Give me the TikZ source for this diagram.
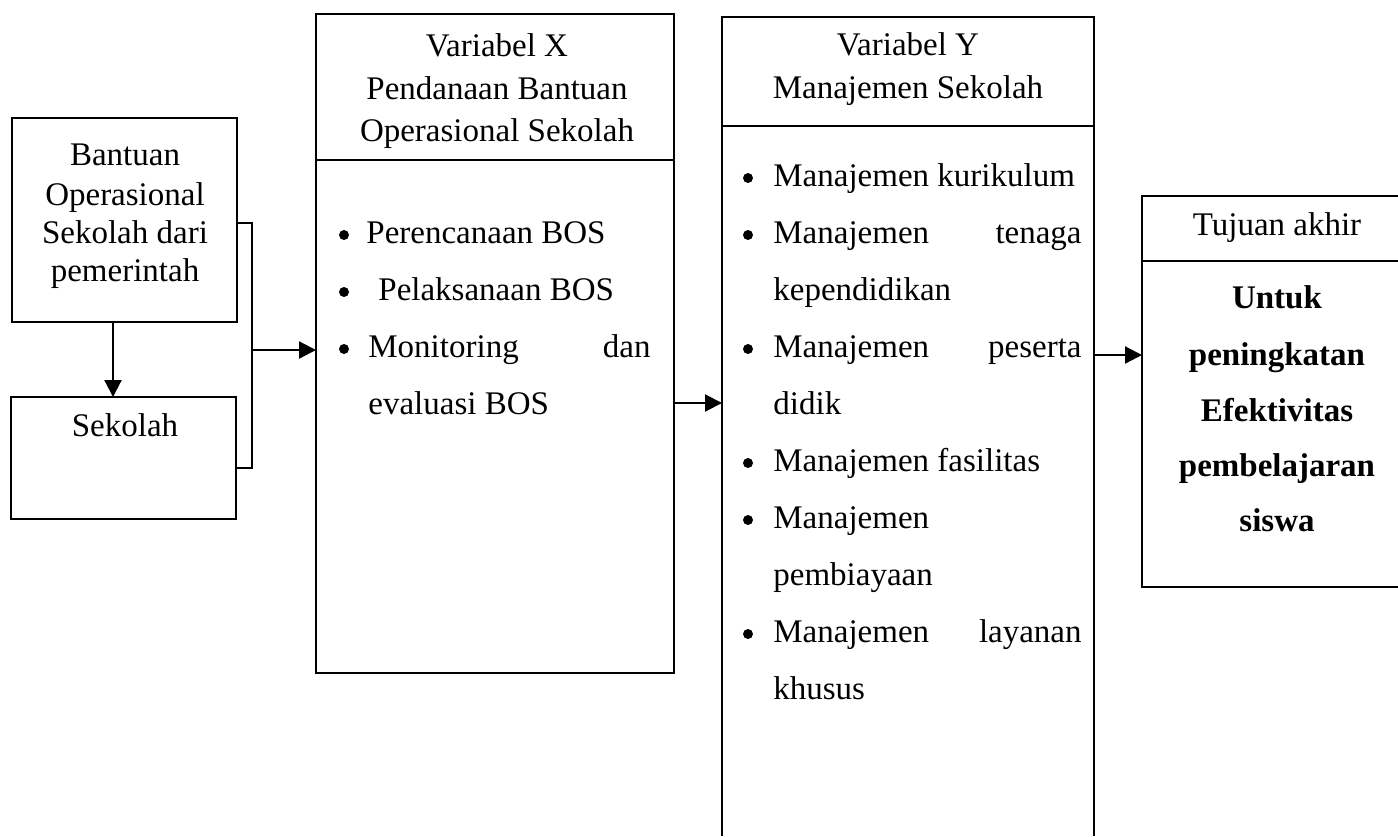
\documentclass[tikz,border=0pt]{standalone}
\usepackage{fontspec}
\setmainfont{Liberation Serif}
\usetikzlibrary{arrows.meta}

\tikzset{
  box/.style={line width=1.1pt},
  link/.style={line width=1.1pt,-{Triangle[length=8.5pt,width=8.5pt]}},
  ln/.style={inner sep=0pt,anchor=base,font=\fontsize{16.5}{19}\selectfont},
  lnl/.style={ln,anchor=base west},
  lnr/.style={ln,anchor=base east},
  lnb/.style={ln,font=\fontsize{16.5}{19}\selectfont\bfseries},
  bul/.style={circle,fill,inner sep=0pt,minimum size=5pt},
}

\begin{document}
\begin{tikzpicture}[x=0.5pt,y=-0.5pt]
  \useasboundingbox (0,0) rectangle (1398,836);

  % boxes
  \coordinate (bos1) at (12,118);
  \coordinate (bos2) at (237,322);
  \coordinate (sek1) at (11,397);
  \coordinate (sek2) at (236,519);
  \coordinate (vx1) at (316,14);
  \coordinate (vx2) at (674,673);
  \coordinate (vxh1) at (316,160);
  \coordinate (vxh2) at (674,160);
  \coordinate (vy1) at (722,17);
  \coordinate (vy2) at (1094,17);
  \coordinate (vyh1) at (722,126);
  \coordinate (vyh2) at (1094,126);
  \coordinate (tj1) at (1142,196);
  \coordinate (tj2) at (1142,587);
  \coordinate (tjh) at (1142,261);

  \draw[box] (bos1) rectangle (bos2);
  \draw[box] (sek1) rectangle (sek2);
  \draw[box] (vx1) rectangle (vx2);
  \draw[box] (vxh1) -- (vxh2);
  \draw[box] (722,836) -- (vy1) -- (vy2) -- (1094,836);
  \draw[box] (vyh1) -- (vyh2);
  \draw[box] (1398,196) -- (tj1) -- (tj2) -- (1398,587);
  \draw[box] (tjh) -- (1398,261);

  % connectors
  \coordinate (bosbot) at (113,322);
  \coordinate (sektop) at (113,397);
  \coordinate (brtop) at (237,223);
  \coordinate (brmid) at (252,350);
  \coordinate (brbot) at (236,468);
  \coordinate (vxin) at (316,350);
  \coordinate (vxout) at (674,403);
  \coordinate (vyin) at (722,403);
  \coordinate (vyout) at (1094,355);
  \coordinate (tjin) at (1142,355);

  \draw[link] (bosbot) -- (sektop);
  \draw[box] (brtop) -| (brmid) |- (brbot);
  \draw[link] (brmid) -- (vxin);
  \draw[link] (vxout) -- (vyin);
  \draw[link] (vyout) -- (tjin);

  % texts
  \node[ln] (bosa) at (125,165) {Bantuan};
  \node[ln] (bosb) at (125,205) {Operasional};
  \node[ln] (bosc) at (125,243) {Sekolah dari};
  \node[ln] (bosd) at (125,281) {pemerintah};
  \node[ln] (sek) at (125,436) {Sekolah};

  \node[ln] (vxa) at (497,56) {Variabel X};
  \node[ln] (vxb) at (497,99) {Pendanaan Bantuan};
  \node[ln] (vxc) at (497,141) {Operasional Sekolah};
  \foreach \y in {235,292,349}
    \node[bul] (bx\y) at (344,\y) {};
  \node[lnl] (xa) at (366,243) {Perencanaan BOS};
  \node[lnl] (xb) at (378,300) {Pelaksanaan BOS};
  \node[lnl] (xc) at (368,357) {Monitoring};
  \node[lnr] (xcr) at (651,357) {dan};
  \node[lnl] (xd) at (368,414) {evaluasi BOS};

  \node[ln] (vya) at (908,55) {Variabel Y};
  \node[ln] (vyb) at (908,98) {Manajemen Sekolah};
  \foreach \y in {178,235,349,463,520,634}
    \node[bul] (by\y) at (748,\y) {};
  \node[lnl] (ya) at (773,186) {Manajemen kurikulum};
  \node[lnl] (yb) at (773,243) {Manajemen};
  \node[lnr] (ybr) at (1082,243) {tenaga};
  \node[lnl] (yc) at (773,300) {kependidikan};
  \node[lnl] (yd) at (773,357) {Manajemen};
  \node[lnr] (ydr) at (1082,357) {peserta};
  \node[lnl] (ye) at (773,414) {didik};
  \node[lnl] (yf) at (773,471) {Manajemen fasilitas};
  \node[lnl] (yg) at (773,528) {Manajemen};
  \node[lnl] (yh) at (773,585) {pembiayaan};
  \node[lnl] (yi) at (773,642) {Manajemen};
  \node[lnr] (yir) at (1082,642) {layanan};
  \node[lnl] (yj) at (773,699) {khusus};

  \node[ln] (tja) at (1277,235) {Tujuan akhir};
  \node[lnb] (tjb) at (1277,308) {Untuk};
  \node[lnb] (tjc) at (1277,365) {peningkatan};
  \node[lnb] (tjd) at (1277,421) {Efektivitas};
  \node[lnb] (tje) at (1277,476) {pembelajaran};
  \node[lnb] (tjf) at (1277,531) {siswa};
\end{tikzpicture}
\end{document}
